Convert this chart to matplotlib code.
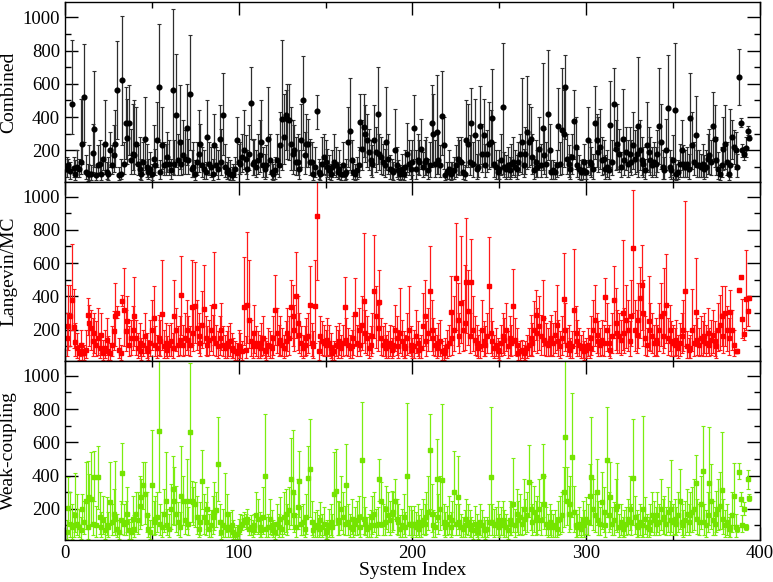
import numpy as np
import matplotlib
matplotlib.use("Agg")
import matplotlib.pyplot as plt
from matplotlib.ticker import MultipleLocator

plt.rcParams['font.family'] = ['Liberation Serif', 'DejaVu Serif']

# Combined (black)
comb_mid = [90,110,75,480,95,60,100,85,130,240,520,70,55,60,60,185,327,50,110,120,
            60,150,236,70,60,200,110,170,240,563,50,60,624,120,363,275,363,140,180,170,
            240,120,90,60,130,270,100,70,90,60,150,110,260,582,70,230,110,120,160,120,
            80,563,120,412,140,250,120,170,150,333,140,539,90,100,60,130,180,240,110,90,
            70,280,120,100,60,230,110,90,270,130,412,100,70,80,60,50,60,90,260,130,
            120,160,200,150,90,180,485,120,130,100,140,170,250,110,90,110,270,140,70,60,
            80,140,110,230,388,280,410,390,385,240,180,200,130,130,90,260,503,170,240,240,
            130,130,60,100,436,70,60,120,160,130,100,80,60,100,130,110,70,90,60,110,
            60,70,250,315,140,70,60,80,110,370,210,340,300,260,190,140,120,260,190,418,
            180,160,130,110,250,150,90,80,70,200,110,80,60,90,60,100,180,120,90,130,
            333,90,140,130,210,100,130,140,80,110,364,300,120,309,140,110,406,230,50,70,
            90,60,70,80,110,150,140,130,70,60,260,240,130,364,120,290,90,100,345,180,
            290,110,180,240,250,394,120,100,70,90,140,461,100,90,110,80,120,130,100,90,
            130,180,250,110,180,309,250,270,160,80,130,100,210,110,333,170,120,418,200,70,
            80,70,110,345,120,320,300,582,150,120,90,160,376,220,110,90,70,80,130,70,
            260,130,120,90,364,260,190,220,140,150,90,100,80,355,130,479,210,240,180,100,
            270,140,190,120,180,130,230,150,180,345,200,140,120,80,230,190,140,110,130,120,
            180,345,250,100,80,200,455,100,80,140,442,60,70,120,200,120,100,120,90,394,
            230,130,291,110,110,100,120,90,100,150,170,130,345,270,140,90,60,110,210,240,
            130,60,110,280,220,200,100,642,364,200,176,212,315,273]
comb_hi = [160,150,130,865,160,140,200,150,510,510,840,170,120,230,110,357,680,100,230,260,
           120,240,503,130,160,310,230,350,440,855,100,150,1006,250,580,510,590,330,480,500,
           460,230,280,150,250,521,240,150,190,120,350,210,490,958,140,460,250,240,310,260,
           150,1048,260,782,300,590,260,380,320,600,270,891,200,250,140,250,440,360,220,200,
           130,500,250,220,150,420,220,200,470,330,665,240,130,160,140,100,120,160,400,240,
           250,300,440,290,200,350,700,260,270,200,300,380,500,220,180,230,580,300,130,120,
           160,300,230,430,862,540,560,600,600,460,380,350,280,300,200,480,770,310,420,390,
           270,250,130,220,535,150,130,280,300,260,210,170,120,200,300,220,130,200,120,250,
           120,150,460,636,260,130,120,160,220,539,380,540,470,420,330,260,230,470,340,700,
           300,280,240,210,582,300,170,150,130,448,220,140,110,180,110,200,364,260,200,260,
           533,200,300,260,390,190,260,280,150,250,594,540,260,655,310,230,679,400,90,130,
           200,130,130,160,230,280,260,280,130,110,500,480,290,576,250,510,180,260,588,360,
           510,240,320,490,440,691,250,200,140,200,300,848,190,170,220,160,240,280,200,170,
           250,300,636,210,340,648,480,460,300,150,260,200,400,240,727,330,250,806,360,140,
           140,130,200,576,250,697,560,773,300,230,180,300,564,400,210,170,140,150,240,140,
           461,250,220,180,588,420,400,450,280,260,170,200,150,618,260,697,380,480,330,190,
           570,280,340,260,340,260,430,320,340,761,380,280,220,150,491,340,280,220,250,220,
           320,697,480,200,160,390,776,200,160,290,848,120,140,240,380,230,200,220,180,667,
           430,250,527,200,200,180,240,170,200,300,330,260,552,470,280,190,110,220,400,473,
           250,120,450,380,320,310,180,812,394,240,220,280,345,290]
comb_lo = [40,70,30,300,40,20,40,40,60,120,250,30,15,20,20,70,100,20,50,60,
           20,80,60,30,20,100,60,70,100,270,20,30,230,60,150,120,170,60,80,60,
           120,50,30,20,60,80,40,30,40,20,70,50,100,250,30,90,50,50,70,50,
           30,55,50,100,50,90,50,60,60,110,60,200,40,40,20,50,70,100,40,30,
           30,120,50,40,20,100,50,30,100,50,170,40,30,30,20,20,20,40,120,60,
           60,70,90,60,30,80,270,50,50,40,60,70,100,40,30,40,110,60,30,20,
           30,60,40,100,80,120,200,150,140,80,60,80,50,50,30,100,200,60,100,100,
           50,50,20,40,327,30,20,50,60,50,40,30,20,40,50,40,30,30,20,40,
           20,30,100,80,50,30,20,30,40,200,80,160,130,100,80,50,40,100,70,120,
           80,60,50,40,80,60,30,30,20,80,40,30,20,30,20,40,70,50,30,50,
           150,30,60,50,90,40,50,50,30,40,100,120,40,60,60,40,170,90,20,30,
           30,20,30,30,40,60,50,50,30,20,100,100,50,100,40,120,30,40,120,70,
           120,40,70,90,100,100,40,30,30,30,50,60,40,30,40,30,40,50,40,30,
           50,70,60,40,60,90,100,110,60,30,40,40,80,40,80,60,40,140,80,30,
           30,30,40,200,50,60,100,270,60,40,30,60,150,90,40,30,20,30,50,30,
           100,50,40,30,150,100,70,90,50,60,30,40,30,100,50,200,80,90,70,40,
           90,50,80,40,70,50,90,60,70,40,80,50,40,30,80,70,50,40,50,40,
           70,120,90,30,30,80,200,40,30,50,30,20,30,40,80,40,40,40,30,100,
           90,50,100,40,40,40,40,30,40,60,60,50,150,100,50,30,20,40,80,90,
           50,20,40,150,120,90,40,473,340,160,140,160,290,260]

# Langevin/MC (red)
lang_mid = [150,224,279,380,218,127,90,60,110,70,60,80,290,240,210,130,180,110,150,90,
            170,60,90,140,70,60,110,190,279,300,80,60,372,315,190,250,110,150,200,279,
            150,90,120,70,110,160,90,70,120,200,267,110,90,150,130,293,100,120,80,110,
            130,90,279,200,110,140,406,110,150,200,140,110,335,180,339,210,160,120,230,321,
            150,110,140,200,150,339,120,100,150,200,110,90,100,120,130,90,80,70,60,100,
            90,70,333,80,347,260,130,100,180,120,100,90,120,150,80,70,110,100,90,150,
            315,180,120,140,110,90,130,180,150,333,280,200,400,240,170,120,90,110,150,160,
            345,120,100,339,885,70,160,130,120,110,140,120,90,60,70,110,100,130,90,120,
            333,140,110,90,100,150,291,120,200,110,230,370,180,150,90,110,160,430,280,210,
            364,150,110,130,90,100,120,80,110,200,150,100,180,130,100,90,150,200,110,80,
            100,160,120,80,90,220,280,130,180,432,200,150,110,90,120,130,70,60,80,100,
            120,303,150,200,509,260,160,358,200,240,485,310,160,485,200,140,120,90,100,200,
            130,110,160,461,180,130,90,110,80,70,120,160,140,200,100,150,120,341,140,110,
            60,70,80,60,70,90,110,150,120,200,290,180,220,160,270,140,120,110,130,150,
            120,170,230,130,100,150,382,200,110,120,80,100,315,180,130,110,90,100,70,80,
            110,90,150,200,260,170,130,110,140,120,394,200,120,80,160,378,240,180,160,140,
            300,180,260,200,130,280,691,200,170,260,390,469,300,150,110,250,200,160,120,140,
            120,200,280,160,300,347,150,200,130,120,110,140,90,120,160,200,432,100,80,90,
            200,120,303,140,110,150,130,160,120,180,110,140,170,130,100,200,230,280,160,300,
            200,150,303,200,110,70,72,438,515,261,176,382,309,388]
lang_hi = [300,470,467,717,442,240,180,110,200,120,110,200,388,350,320,270,300,250,330,180,
           300,140,200,270,160,120,220,310,479,340,150,110,406,570,320,400,220,260,340,517,
           260,180,240,150,200,300,180,140,260,380,462,220,170,290,260,620,200,240,160,230,
           240,180,497,330,220,280,642,230,300,380,280,220,620,340,606,380,300,240,430,590,
           280,220,260,350,290,667,230,190,280,360,220,170,190,220,240,180,150,130,120,200,
           180,130,636,160,788,620,260,190,350,220,190,170,240,280,150,130,210,190,170,280,
           530,330,230,280,210,170,250,330,280,499,470,350,667,400,300,220,170,220,270,300,
           582,240,190,620,1300,130,280,250,230,200,270,230,180,110,130,220,200,240,170,230,
           515,270,210,170,200,280,509,230,330,220,400,782,320,280,180,220,300,770,460,350,
           560,270,220,240,170,190,230,150,220,350,280,200,448,260,190,170,300,461,220,150,
           200,320,250,150,170,420,499,250,330,703,380,270,210,170,240,260,130,110,150,200,
           230,523,300,400,842,480,300,765,380,588,869,560,300,745,400,280,230,170,200,380,
           250,220,300,757,330,250,170,210,150,130,230,300,270,360,190,280,230,564,270,210,
           110,130,140,110,130,170,210,290,240,370,438,330,400,290,497,270,240,210,250,290,
           240,310,467,260,190,280,661,360,210,230,150,190,686,340,260,210,170,190,130,150,
           210,170,280,380,467,300,250,210,260,230,509,360,230,150,300,584,450,320,300,260,
           739,330,470,380,250,500,1042,380,320,480,576,709,500,280,210,523,360,300,230,270,
           230,360,480,300,570,655,270,350,250,230,210,260,170,240,300,380,976,190,150,170,
           444,230,630,270,210,280,250,300,230,330,210,260,320,250,190,360,410,461,300,461,
           340,270,438,320,200,80,82,450,525,382,210,680,400,400]
lang_lo = [40,80,100,200,90,40,30,20,40,20,20,30,170,100,80,40,60,40,50,30,
           60,20,30,50,20,20,40,80,100,270,30,20,340,100,70,100,40,50,80,100,
           50,30,40,20,40,60,30,20,40,80,100,40,30,50,40,80,30,40,30,40,
           40,30,100,70,40,50,170,40,50,80,50,40,110,70,120,80,60,40,90,120,
           50,40,50,70,50,110,40,30,50,80,40,30,30,40,40,30,30,20,20,30,
           30,20,110,30,120,90,40,30,60,40,30,30,40,50,30,20,40,30,30,50,
           110,60,40,50,40,30,40,70,50,150,100,70,150,80,60,40,30,40,50,60,
           110,40,30,120,500,20,60,50,40,40,50,40,30,20,20,40,30,50,30,40,
           110,50,40,30,30,50,100,40,70,40,80,120,60,50,30,40,60,150,90,70,
           140,50,40,40,30,30,40,30,40,70,50,30,60,40,30,30,50,60,40,30,
           30,60,40,30,30,80,100,40,70,140,70,50,40,30,40,40,20,20,30,30,
           40,110,50,70,200,100,60,120,70,80,180,110,60,150,70,50,40,30,30,70,
           40,40,60,170,60,40,30,40,30,20,40,60,50,70,30,50,40,120,50,40,
           20,20,30,20,20,30,40,50,40,70,140,60,80,50,100,50,40,40,40,50,
           40,60,80,40,30,50,120,70,40,40,30,30,100,60,40,40,30,30,20,30,
           40,30,50,70,100,60,40,40,50,40,250,70,40,30,60,150,80,60,60,50,
           80,60,90,70,40,100,300,70,60,90,150,200,100,50,40,80,70,60,40,50,
           40,70,100,60,90,120,50,70,40,40,40,50,30,40,60,70,100,30,30,30,
           70,40,100,50,40,50,40,60,40,60,40,50,60,40,30,70,80,100,60,100,
           70,50,150,80,40,60,62,425,505,150,140,200,220,375]

# Weak-coupling (green)
weak_mid = [60,206,110,90,100,160,110,90,70,200,120,250,90,270,260,110,390,100,394,150,
            90,130,70,100,90,240,120,170,140,80,60,130,418,110,120,170,70,60,140,80,
            170,130,220,270,345,290,160,80,60,345,120,140,150,667,110,90,170,250,100,80,
            200,320,250,170,120,90,280,250,130,250,110,662,250,240,230,150,80,120,370,150,
            120,200,80,100,150,180,190,468,120,60,100,90,170,80,90,100,60,40,50,70,
            90,110,130,120,140,80,90,70,100,160,140,90,70,150,400,80,90,140,100,70,
            60,110,90,140,80,150,170,120,190,382,300,160,90,210,365,110,120,80,150,388,
            442,120,70,90,100,80,130,90,110,60,70,100,120,90,291,310,130,120,200,150,
            110,345,120,90,140,80,110,130,150,90,491,140,110,80,90,100,150,170,100,110,
            382,250,110,120,200,160,130,170,180,250,140,120,80,100,150,90,400,110,110,100,
            110,90,120,80,100,130,110,150,180,552,170,100,90,382,150,200,376,120,90,110,
            150,90,130,300,110,270,120,90,80,100,140,120,100,80,70,110,90,60,120,100,
            80,70,80,120,394,120,100,110,130,90,110,130,100,90,70,130,110,230,100,170,
            130,150,110,200,140,160,364,200,120,180,130,150,200,130,400,230,110,90,120,100,
            90,100,80,130,140,160,300,630,250,170,230,509,180,100,90,110,80,130,100,140,
            120,280,394,200,160,300,130,110,240,180,100,493,160,270,110,130,200,220,90,120,
            80,100,110,140,200,120,388,150,100,90,120,100,196,140,90,80,120,160,130,110,
            160,120,200,140,150,110,180,130,200,120,140,110,160,250,120,100,130,170,120,160,
            180,200,358,140,120,230,430,120,100,160,358,250,130,110,170,200,220,315,140,100,
            120,80,90,160,279,90,80,424,261,100,200,90,378,267]
weak_hi = [130,394,300,230,180,418,290,200,150,290,250,480,485,410,540,250,545,220,578,300,
           180,280,150,270,180,480,230,320,485,170,130,250,596,230,250,330,140,120,280,160,
           300,300,400,380,479,480,300,160,130,673,250,280,300,1200,230,180,320,539,200,170,
           350,515,450,340,240,180,576,400,250,497,210,1078,370,330,360,280,160,240,552,290,
           240,330,170,190,280,360,300,753,230,130,200,418,290,160,180,190,130,90,100,140,
           170,160,180,170,200,140,160,130,170,300,260,180,130,330,771,150,170,260,190,130,
           120,230,170,270,150,300,320,230,330,624,677,290,170,380,545,220,230,150,290,576,
           741,250,130,180,190,160,240,170,210,120,130,200,230,170,539,557,250,240,400,300,
           220,588,230,170,260,150,210,250,280,170,842,270,210,150,170,190,280,300,200,210,
           497,360,230,220,340,300,250,310,300,378,260,230,160,200,290,180,836,220,220,190,
           220,180,230,160,200,260,230,300,400,771,350,190,180,618,290,400,832,230,180,220,
           280,180,250,545,230,515,230,170,150,190,260,230,190,150,130,220,170,110,230,190,
           150,130,150,230,812,230,200,210,250,170,210,250,190,170,130,250,210,506,200,320,
           250,290,210,380,260,300,582,360,230,340,250,280,380,240,590,400,210,170,230,190,
           170,190,150,250,280,300,450,1120,450,340,400,897,340,190,170,210,150,250,190,270,
           230,470,751,380,290,500,250,210,420,330,190,812,300,480,210,240,380,473,170,230,
           150,190,210,260,400,230,741,280,190,170,230,190,757,270,170,150,230,300,250,210,
           300,230,380,260,280,210,330,250,491,230,260,210,300,442,230,190,250,320,230,300,
           330,380,523,260,230,400,697,230,190,300,691,470,250,210,310,380,420,665,260,190,
           230,150,170,300,475,170,100,473,300,160,240,110,436,290]
weak_lo = [20,100,30,20,30,60,40,30,20,110,50,80,20,100,110,40,250,30,200,50,
           30,50,20,40,30,100,40,60,40,30,20,50,230,40,40,60,20,20,50,30,
           60,50,80,100,200,110,60,30,20,90,40,50,60,300,40,30,60,80,40,30,
           80,110,100,60,40,30,100,100,50,80,40,250,120,100,90,50,30,40,200,50,
           40,80,30,30,50,70,90,250,40,20,30,30,60,30,30,30,20,15,20,20,
           50,70,90,80,90,40,40,30,50,60,50,30,30,50,150,30,30,50,40,30,
           20,40,30,50,30,50,60,40,80,100,80,60,30,80,150,40,40,30,50,150,
           150,40,30,30,30,30,40,30,40,20,20,30,40,30,100,100,40,40,70,50,
           40,100,40,30,50,30,40,40,50,30,150,50,40,30,30,30,50,60,30,40,
           250,90,40,40,80,60,40,60,70,140,50,40,30,30,50,30,100,40,40,30,
           40,30,40,30,30,50,40,50,70,200,60,30,30,120,50,70,100,40,30,40,
           50,30,40,100,40,80,40,30,30,30,50,40,30,30,20,40,30,20,40,30,
           30,20,30,40,100,40,30,40,40,30,40,40,30,30,20,40,40,60,30,60,
           40,50,40,70,50,60,150,70,40,60,40,50,70,40,150,80,40,30,40,30,
           30,30,30,40,50,60,90,250,100,60,80,150,60,30,30,40,30,40,30,50,
           40,100,100,70,60,100,40,40,80,60,30,150,60,80,40,40,70,60,30,40,
           30,30,40,50,70,40,100,50,30,30,40,30,30,50,30,30,40,60,40,40,
           60,40,70,50,50,40,60,40,60,40,50,40,60,80,40,30,40,60,40,60,
           60,70,150,50,40,80,120,40,30,60,100,80,40,40,60,70,80,80,50,30,
           40,30,30,60,100,30,60,378,220,60,160,70,320,245]

panels = [
    ("Combined", comb_mid, comb_lo, comb_hi, "#000000", "#2e2e2e", "o", 3.4),
    ("Langevin/MC", lang_mid, lang_lo, lang_hi, "#ff0000", "#ff1a1a", "s", 3.0),
    ("Weak-coupling", weak_mid, weak_lo, weak_hi, "#74e400", "#7ced10", "s", 2.8),
]

fig, axes = plt.subplots(3, 1, figsize=(7.73, 5.82), dpi=100, sharex=True)
fig.subplots_adjust(left=0.084, right=0.983, top=0.996, bottom=0.072, hspace=0)

for ax, (name, mid, lo, hi, col, ecol, mk, ms) in zip(axes, panels):
    mid = np.array(mid, dtype=float)
    lo = np.array(lo, dtype=float)
    hi = np.array(hi, dtype=float)
    x = np.arange(1, len(mid) + 1)
    err = [mid - lo, hi - mid]
    ax.errorbar(x, mid, yerr=err, fmt=mk, color=col, ms=ms, mec=col, mfc=col,
                ecolor=ecol, elinewidth=0.9, capsize=1.6, capthick=0.8)
    ax.set_ylim(12, 1090)
    ax.set_xlim(0, 400)
    ax.yaxis.set_major_locator(MultipleLocator(200))
    ax.yaxis.set_minor_locator(MultipleLocator(100))
    ax.xaxis.set_major_locator(MultipleLocator(100))
    ax.xaxis.set_minor_locator(MultipleLocator(50))
    ax.tick_params(which='both', direction='in', top=True, right=True, width=1.0)
    ax.tick_params(which='major', length=9.5, labelsize=13.5)
    ax.tick_params(which='minor', length=4.5)
    ax.set_ylabel(name, fontsize=14, labelpad=4)
    for s in ax.spines.values():
        s.set_linewidth(1.0)
    ax.set_yticks([200, 400, 600, 800, 1000])

axes[-1].set_xlabel("System Index", fontsize=14, labelpad=0)
fig.align_ylabels(axes)

fig.savefig("out.png", dpi=100)
